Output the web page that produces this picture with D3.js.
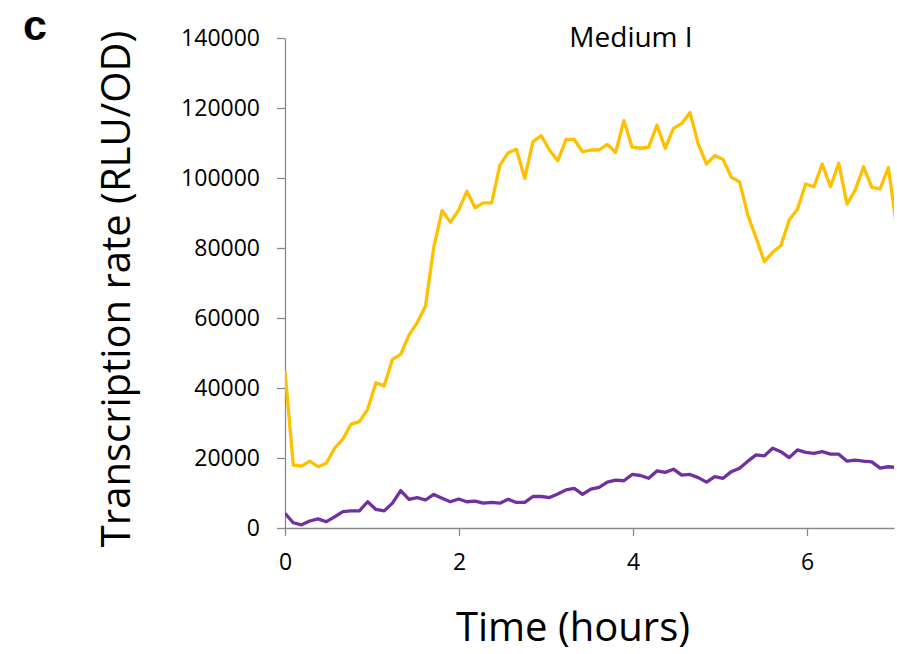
<!DOCTYPE html>
<html>
<head>
<meta charset="utf-8">
<script src="https://cdn.jsdelivr.net/npm/d3@7"></script>
<style>
  body { margin: 0; background: #fff; }
  svg { display: block; font-family: "Open Sans", sans-serif; }
</style>
</head>
<body>
<div id="chart"></div>
<script>
// Readings were taken roughly every 0.095 h (about 5.7 min)
const sampleHours = 0.095;

// Medium I, yellow strain (RLU/OD)
const yellowValues = [
  44900, 18000, 17700, 19100, 17500, 18500, 22800, 25400, 29700, 30400,
  33900, 41500, 40600, 48200, 49600, 55100, 58700, 63400, 80200, 90700,
  87400, 90800, 96200, 91500, 92900, 92900, 103700, 107200, 108200, 99900,
  110400, 112100, 108000, 104900, 111000, 111000, 107500, 108000, 108000, 109600,
  107300, 116400, 108800, 108500, 108800, 115100, 108500, 114200, 115600, 118700,
  109700, 104000, 106400, 105300, 100200, 98900, 89400, 82900, 76100, 78800,
  80700, 88000, 91100, 98300, 97500, 104000, 97500, 104200, 92500, 96600,
  103200, 97300, 96900, 103000, 86000
];

// Medium I, purple strain (RLU/OD)
const purpleValues = [
  4200, 1500, 900, 2000, 2600, 1800, 3200, 4700, 4900, 4900,
  7500, 5300, 4900, 7100, 10700, 8200, 8700, 8000, 9600, 8500,
  7500, 8300, 7500, 7700, 7100, 7300, 7100, 8200, 7300, 7300,
  9000, 9000, 8700, 9700, 10900, 11300, 9600, 11100, 11600, 13100,
  13700, 13500, 15300, 15000, 14200, 16300, 15900, 16800, 15100, 15300,
  14400, 13100, 14700, 14200, 16100, 17100, 19100, 20900, 20600, 22800,
  21800, 20100, 22300, 21600, 21300, 21800, 21100, 21100, 19100, 19400,
  19100, 18900, 17100, 17500, 17300
];

const xTicks = [0, 2, 4, 6];
const yTicks = [0, 20000, 40000, 60000, 80000, 100000, 120000, 140000];

const width = 897;
const height = 654;
const margin = { top: 38, right: 3, bottom: 126, left: 285 };
const axisColor = "#8a8a8a";

const svg = d3.select("#chart")
  .append("svg")
  .attr("width", width)
  .attr("height", height);

const x = d3.scaleLinear()
  .domain([0, 7])
  .range([margin.left, width - margin.right]);

const y = d3.scaleLinear()
  .domain([0, 140000])
  .range([height - margin.bottom, margin.top]);

// clip the lines at the right edge of the plot (last reading is a bit past 7 h)
svg.append("clipPath")
  .attr("id", "plot-clip")
  .append("rect")
  .attr("x", x(0))
  .attr("y", 0)
  .attr("width", x(7) - x(0))
  .attr("height", height);

// y axis
const yAxis = svg.append("g")
  .attr("transform", "translate(" + x(0) + ",0)")
  .call(d3.axisLeft(y).tickValues(yTicks).tickFormat(d3.format("d")).tickSize(8).tickSizeOuter(0).tickPadding(17));

// x axis
const xAxis = svg.append("g")
  .attr("transform", "translate(0," + y(0) + ")")
  .call(d3.axisBottom(x).tickValues(xTicks).tickFormat(d3.format("d")).tickSize(8).tickSizeOuter(0).tickPadding(18));

[yAxis, xAxis].forEach(function(g) {
  g.select(".domain").attr("stroke", axisColor).attr("stroke-width", 1.3);
  g.selectAll(".tick line").attr("stroke", axisColor).attr("stroke-width", 1.3);
  g.selectAll(".tick text")
    .attr("fill", "#000")
    .style("font-family", "'Open Sans', sans-serif")
    .style("font-size", "23px");
});

// the two series
const line = d3.line()
  .x(function(d, i) { return x(i * sampleHours); })
  .y(function(d) { return y(d); });

const plot = svg.append("g").attr("clip-path", "url(#plot-clip)");

plot.append("path")
  .datum(purpleValues)
  .attr("fill", "none")
  .attr("stroke", "#7030a0")
  .attr("stroke-width", 3.3)
  .attr("stroke-linejoin", "round")
  .attr("d", line);

plot.append("path")
  .datum(yellowValues)
  .attr("fill", "none")
  .attr("stroke", "#ffc000")
  .attr("stroke-width", 3.3)
  .attr("stroke-linejoin", "round")
  .attr("d", line);

// titles
svg.append("text")
  .attr("x", 631)
  .attr("y", 47)
  .attr("text-anchor", "middle")
  .style("font-size", "28px")
  .text("Medium I");

svg.append("text")
  .attr("x", 573)
  .attr("y", 641)
  .attr("text-anchor", "middle")
  .style("font-size", "40px")
  .text("Time (hours)");

svg.append("text")
  .attr("transform", "translate(130,289) rotate(-90)")
  .attr("text-anchor", "middle")
  .style("font-size", "40px")
  .text("Transcription rate (RLU/OD)");

// panel letter
svg.append("text")
  .attr("x", 23)
  .attr("y", 40)
  .style("font-family", "'Liberation Sans', Arial, sans-serif")
  .style("font-size", "43px")
  .style("font-weight", "bold")
  .text("c");
</script>
</body>
</html>
